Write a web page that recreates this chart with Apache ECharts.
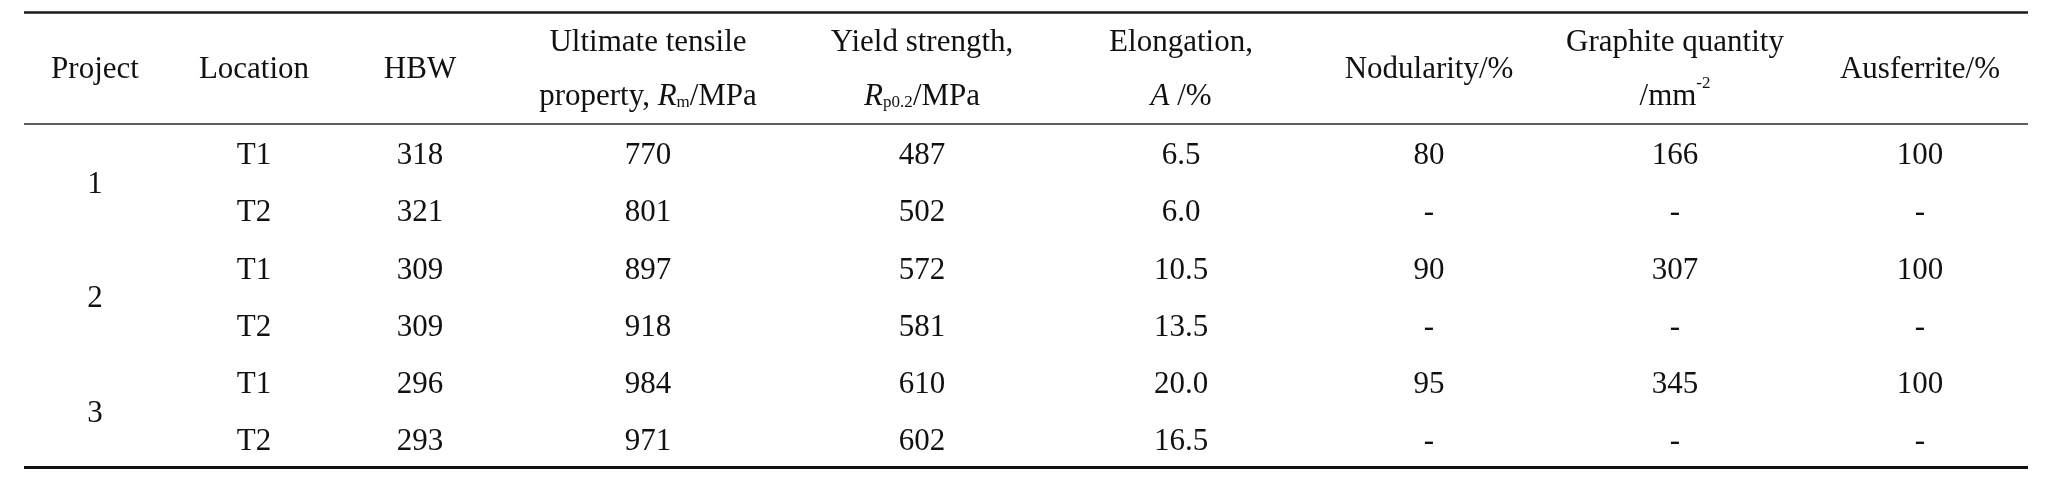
<!DOCTYPE html>
<html>
<head>
<meta charset="utf-8">
<script src="https://cdn.jsdelivr.net/npm/echarts@6/dist/echarts.min.js"></script>
<style>
  html, body { margin: 0; padding: 0; background: #fff; }
  #main { width: 2048px; height: 494px; }
</style>
</head>
<body>
<div id="main"></div>
<script>
// table data
var projects = ['1', '2', '3'];
var locations = ['T1', 'T2', 'T1', 'T2', 'T1', 'T2'];
var hbw = ['318', '321', '309', '309', '296', '293'];
var tensile = ['770', '801', '897', '918', '984', '971'];
var yieldStrength = ['487', '502', '572', '581', '610', '602'];
var elongation = ['6.5', '6.0', '10.5', '13.5', '20.0', '16.5'];
var nodularity = ['80', '-', '90', '-', '95', '-'];
var graphite = ['166', '-', '307', '-', '345', '-'];
var ausferrite = ['100', '-', '100', '-', '100', '-'];

var headers = [
  'Project',
  'Location',
  'HBW',
  'Ultimate tensile\nproperty, {i|R}{subM|m}/MPa',
  'Yield strength,\n{i|R}{subP|p0.2}/MPa',
  'Elongation,\n{i|A} /%',
  'Nodularity/%',
  'Graphite quantity\n/mm{sup|-2}',
  'Ausferrite/%'
];

// layout (pixel space of the value axes)
var colX = [95, 254, 420, 648, 922, 1181, 1429, 1675, 1920];
var headerY = 70;
var firstRowY = 156;
var rowStep = 57.2;
var ruleLeft = 24, ruleRight = 2028;

var FONT = 'Liberation Serif';
var INK = '#111';

var rich = {
  i: { fontStyle: 'italic', fontFamily: FONT, fontSize: 31, lineHeight: 54, color: INK },
  subM: { fontFamily: FONT, fontSize: 17, lineHeight: 54, width: 13, align: 'left',
          verticalAlign: 'bottom', padding: [0, 0, 13, 0], color: INK },
  subP: { fontFamily: FONT, fontSize: 17, lineHeight: 54, width: 30, align: 'left',
          verticalAlign: 'bottom', padding: [0, 0, 13, 0], color: INK },
  sup: { fontFamily: FONT, fontSize: 17, lineHeight: 54, width: 14, align: 'left',
         verticalAlign: 'top', padding: [5, 0, 0, 0], color: INK }
};

function cell(x, y, text) {
  return { value: [x, y], label: { formatter: text } };
}

var cells = [];
headers.forEach(function (h, c) {
  cells.push(cell(colX[c], headerY, h));
});
projects.forEach(function (p, k) {
  cells.push(cell(colX[0], firstRowY + rowStep * (2 * k + 0.5), p));
});
var columns = [locations, hbw, tensile, yieldStrength, elongation, nodularity, graphite, ausferrite];
columns.forEach(function (col, c) {
  col.forEach(function (v, r) {
    cells.push(cell(colX[c + 1], firstRowY + rowStep * r, v));
  });
});

function rule(y, w, color) {
  return [
    { coord: [ruleLeft, y], lineStyle: { width: w, color: color, type: 'solid' } },
    { coord: [ruleRight, y] }
  ];
}

var chart = echarts.init(document.getElementById('main'));
chart.setOption({
  animation: false,
  backgroundColor: '#fff',
  grid: { left: 0, right: 0, top: 0, bottom: 0 },
  xAxis: { type: 'value', min: 0, max: 2048, show: false },
  yAxis: { type: 'value', min: 0, max: 494, inverse: true, show: false },
  series: [{
    type: 'scatter',
    symbolSize: 1,
    itemStyle: { color: 'rgba(0,0,0,0)', opacity: 1 },
    label: {
      show: true,
      position: 'inside',
      align: 'center',
      verticalAlign: 'middle',
      fontFamily: FONT,
      fontSize: 31,
      lineHeight: 54,
      color: INK,
      opacity: 1,
      rich: rich
    },
    emphasis: { disabled: true },
    data: cells,
    markLine: {
      silent: true,
      symbol: ['none', 'none'],
      label: { show: false },
      data: [
        rule(12, 2.5, '#1a1a1a'),
        rule(124, 2, '#5e5e5e'),
        rule(467, 3, '#111')
      ]
    }
  }]
});
</script>
</body>
</html>
